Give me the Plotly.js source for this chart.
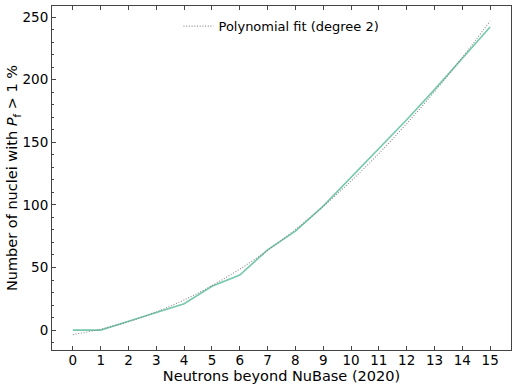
<!DOCTYPE html>
<html>
<head>
<meta charset="utf-8">
<script src="https://cdn.plot.ly/plotly-3.0.1.min.js"></script>
<style>html,body{margin:0;padding:0;background:#fff;}</style>
</head>
<body>
<div id="chart" style="width:518px;height:388px;"></div>
<script>
const neutrons = [0,1,2,3,4,5,6,7,8,9,10,11,12,13,14,15];
const nuclei = [0,0,7,14,21,35,44,64,79,99,122,145,168,192,217,242];
const fitValues = [-3.6,0.7,6.7,14.5,24.1,35.5,48.7,63.6,80.3,98.8,119.0,141.0,164.8,190.4,217.7,246.9];
const fitLabel = "Polynomial fit (degree 2)";
const xTitle = "Neutrons beyond NuBase (2020)";
const yTitle = "Number of nuclei with <i>P</i><sub>f</sub> > 1 %";

const font = "DejaVu Sans, sans-serif";
const traces = [
  {x: neutrons, y: nuclei, mode: "lines", showlegend: false,
   line: {color: "rgba(102,194,165,0.9)", width: 1.6}},
  {x: neutrons, y: fitValues, mode: "lines", name: fitLabel,
   line: {color: "rgba(128,128,128,0.9)", width: 1.1, dash: "1px,1.7px", shape: "spline"}}
];
const layout = {
  width: 518, height: 388,
  margin: {l: 52, r: 7, t: 6, b: 38},
  paper_bgcolor: "#fff", plot_bgcolor: "#fff",
  font: {family: font, color: "#000", size: 13},
  showlegend: true,
  legend: {x: 0.5, xanchor: "center", y: 0.985, yanchor: "top",
           bgcolor: "rgba(0,0,0,0)", font: {size: 13, family: font}},
  xaxis: {
    range: [-0.75, 15.75], tickmode: "array", tickvals: neutrons,
    ticktext: neutrons.map(String),
    ticks: "inside", ticklen: 4, tickwidth: 1, tickcolor: "#444",
    showline: true, linecolor: "#444", linewidth: 1, mirror: "ticks",
    showgrid: false, zeroline: false, ticklabelstandoff: -2,
    tickfont: {size: 13.5},
    title: {text: xTitle, font: {size: 14.5}, standoff: 0}
  },
  yaxis: {
    range: [-15.9, 258.8], tickmode: "linear", tick0: 0, dtick: 50,
    ticks: "inside", ticklen: 4, tickwidth: 1, tickcolor: "#444",
    minor: {dtick: 10, ticks: "inside", ticklen: 2, tickcolor: "#444"},
    showline: true, linecolor: "#444", linewidth: 1, mirror: true,
    showgrid: false, zeroline: false,
    tickfont: {size: 13.5},
    title: {text: yTitle, font: {size: 14.5}, standoff: 0}
  }
};
Plotly.newPlot("chart", traces, layout, {displayModeBar: false, staticPlot: true});
</script>
</body>
</html>
